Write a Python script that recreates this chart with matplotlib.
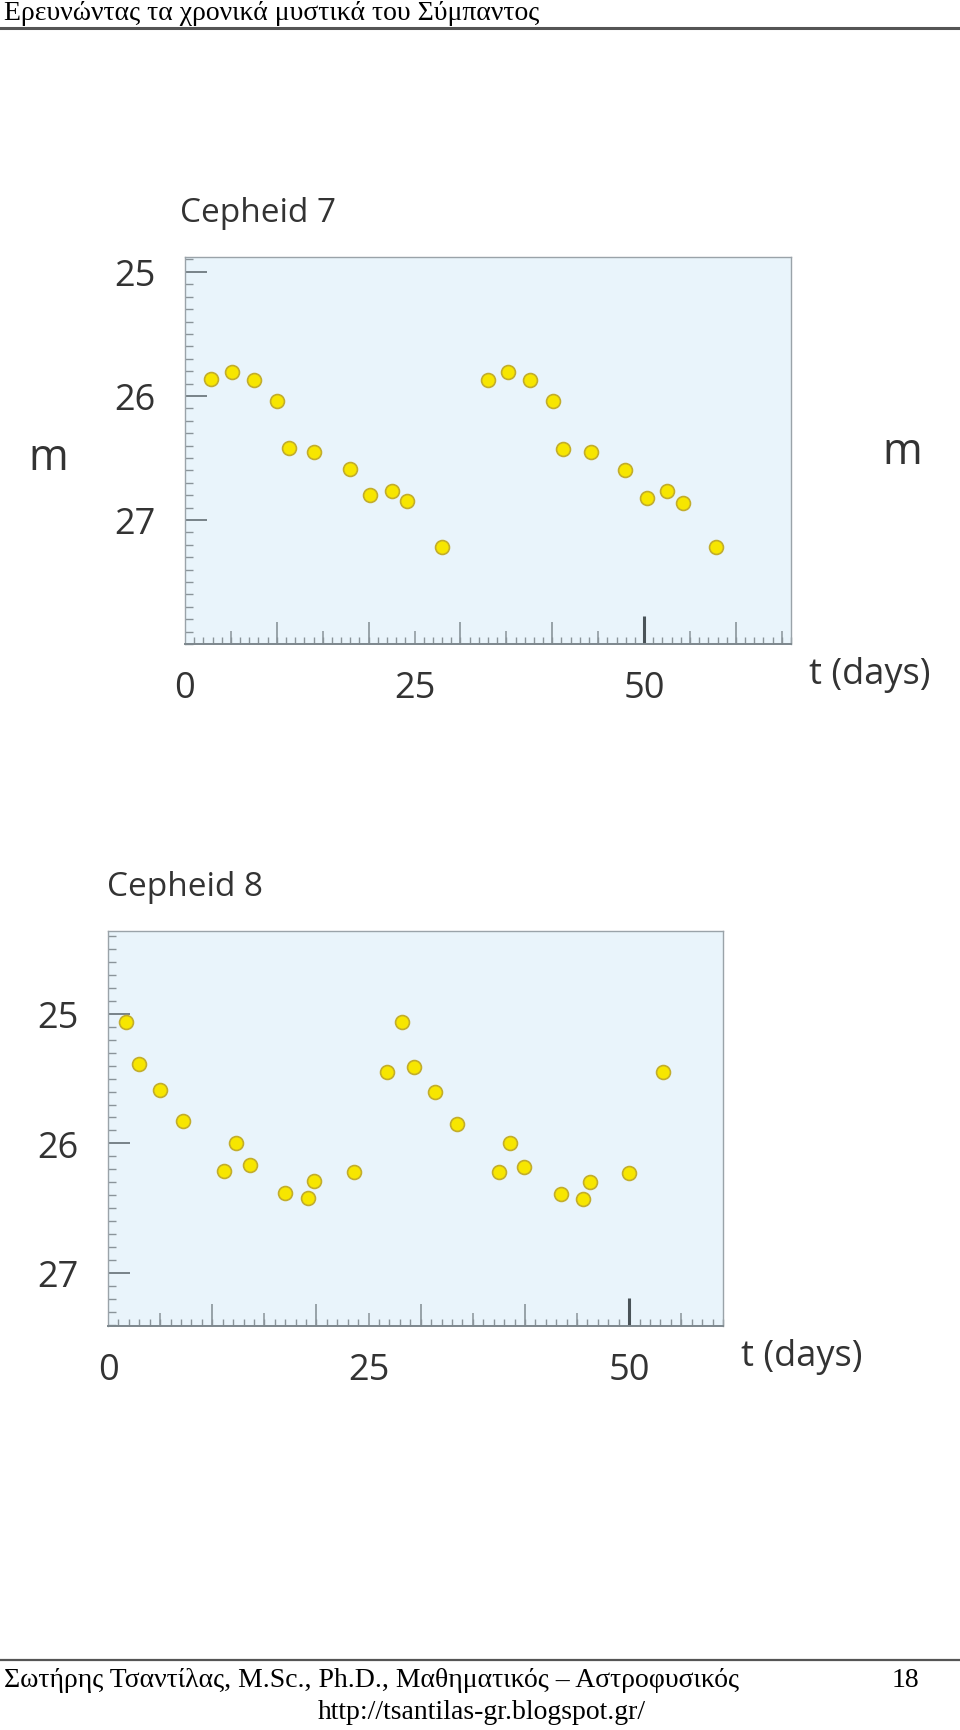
import numpy as np
import matplotlib
matplotlib.use("Agg")
import matplotlib.pyplot as plt
from matplotlib.ticker import MultipleLocator, FixedLocator

# --- data ---------------------------------------------------------------
cep7_t = [2.8, 5.1, 7.5, 10.0, 11.3, 14.0, 18.0, 20.2, 22.5, 24.2, 28.0,
          33.0, 35.2, 37.6, 40.1, 41.2, 44.2, 47.9, 50.3, 52.5, 54.2, 57.8]
cep7_m = [25.86, 25.81, 25.87, 26.04, 26.42, 26.45, 26.59, 26.80, 26.77, 26.85, 27.22,
          25.87, 25.81, 25.87, 26.04, 26.43, 26.45, 26.60, 26.82, 26.77, 26.86, 27.22]

cep8_t = [1.7, 3.0, 5.0, 7.2, 11.1, 12.3, 13.6, 17.0, 19.2, 19.8, 23.6,
          26.8, 28.2, 29.4, 31.4, 33.5, 37.5, 38.6, 39.9, 43.5, 45.6, 46.2, 50.0, 53.2]
cep8_m = [25.06, 25.39, 25.59, 25.83, 26.21, 26.00, 26.17, 26.38, 26.42, 26.29, 26.22,
          25.45, 25.06, 25.41, 25.60, 25.85, 26.22, 26.00, 26.18, 26.39, 26.43, 26.30, 26.23, 25.45]

x_labels = [0, 25, 50]
y_labels = [25, 26, 27]

header_text = "Ερευνώντας τα χρονικά μυστικά του Σύμπαντος"
footer_text = "Σωτήρης Τσαντίλας, M.Sc., Ph.D., Μαθηματικός – Αστροφυσικός"
footer_page = "18"
footer_url = "http://tsantilas-gr.blogspot.gr/"

W, H = 960, 1731
SANS = ["Open Sans", "DejaVu Sans"]
SERIF = ["Liberation Serif", "DejaVu Serif"]
INK = "#333333"
BG = "#e9f4fb"
SPINE = "#9aa3a9"
TICK = "#8a949a"

fig = plt.figure(figsize=(W / 100, H / 100), dpi=100)


def fx(px):
    return px / W


def fy(py):
    return 1 - py / H


def draw_panel(rect, t, m, xmax, ylim, title, title_xy, tdays_xy):
    ax = fig.add_axes(rect)
    ax.set_facecolor(BG)
    ax.plot(t, m, "o", ms=10, mfc="#f7e600", mec="#c2ad2c", mew=1.2, zorder=5)
    ax.set_xlim(0, xmax)
    ax.set_ylim(*ylim)
    for s in ax.spines.values():
        s.set_color(SPINE)
        s.set_linewidth(1.0)
    ax.spines["bottom"].set_color("#7d878d")
    ax.spines["bottom"].set_linewidth(1.4)

    # y axis: long ticks at whole magnitudes, short every 0.1
    ax.yaxis.set_major_locator(FixedLocator(y_labels))
    ax.yaxis.set_minor_locator(MultipleLocator(0.1))
    ax.tick_params(axis="y", which="major", direction="in", length=16, width=1.3,
                   color="#6f7a80", pad=21, labelsize=26, labelcolor=INK)
    ax.tick_params(axis="y", which="minor", direction="in", length=6, width=1.0, color=TICK)

    # x axis: labels only at 0/25/50, ruler ticks drawn separately
    ax.xaxis.set_major_locator(FixedLocator(x_labels))
    ax.xaxis.set_minor_locator(MultipleLocator(1))
    ax.tick_params(axis="x", which="major", length=0, pad=19, labelsize=26, labelcolor=INK)
    ax.tick_params(axis="x", which="minor", direction="in", length=5, width=1.0, color=TICK)
    for lab in ax.get_xticklabels() + ax.get_yticklabels():
        lab.set_family(SANS)

    ax_h = rect[3] * H
    trans = ax.get_xaxis_transform()
    fives = np.arange(5, xmax, 10)
    tens = np.arange(10, xmax, 10)
    tens = tens[tens != 50]
    ax.vlines(fives, 0, 13 / ax_h, color=TICK, lw=1.1, transform=trans)
    ax.vlines(tens, 0, 22 / ax_h, color=TICK, lw=1.2, transform=trans)
    ax.vlines([50], 0, 28 / ax_h, color="#4a5358", lw=2.2, transform=trans)

    fig.text(fx(title_xy[0]), fy(title_xy[1]), title, family=SANS, fontsize=24,
             color=INK, ha="left", va="center")
    fig.text(fx(tdays_xy[0]), fy(tdays_xy[1]), "t (days)", family=SANS, fontsize=26,
             color=INK, ha="left", va="center")
    return ax


ax7 = draw_panel([fx(185), fy(645), fx(791 - 185), (645 - 258) / H],
                 cep7_t, cep7_m, 66, (28.0, 24.88), "Cepheid 7", (180, 213), (809, 675))
ax8 = draw_panel([fx(108), fy(1327), fx(723 - 108), (1327 - 932) / H],
                 cep8_t, cep8_m, 59, (27.41, 24.36), "Cepheid 8", (107, 888), (741, 1357))

# magnitude labels either side of the first panel
fig.text(fx(48), fy(470), "m", family=SANS, fontsize=31, color=INK, ha="center", va="baseline")
fig.text(fx(902), fy(464), "m", family=SANS, fontsize=31, color=INK, ha="center", va="baseline")

# page header and footer
fig.text(fx(4), fy(14), header_text, family=SERIF, fontsize=20, color="black",
         ha="left", va="center")
fig.add_artist(plt.Line2D([0, 1], [fy(29), fy(29)], color="#555555", lw=2.2))
fig.add_artist(plt.Line2D([0, 1], [fy(1661), fy(1661)], color="#555555", lw=1.6))
fig.text(fx(4), fy(1681), footer_text, family=SERIF, fontsize=20, color="black",
         ha="left", va="center")
fig.text(fx(905), fy(1681), footer_page, family=SERIF, fontsize=20, color="black",
         ha="center", va="center")
fig.text(fx(482), fy(1713), footer_url, family=SERIF, fontsize=20, color="black",
         ha="center", va="center")

fig.savefig("out.png", dpi=100, facecolor="white")
